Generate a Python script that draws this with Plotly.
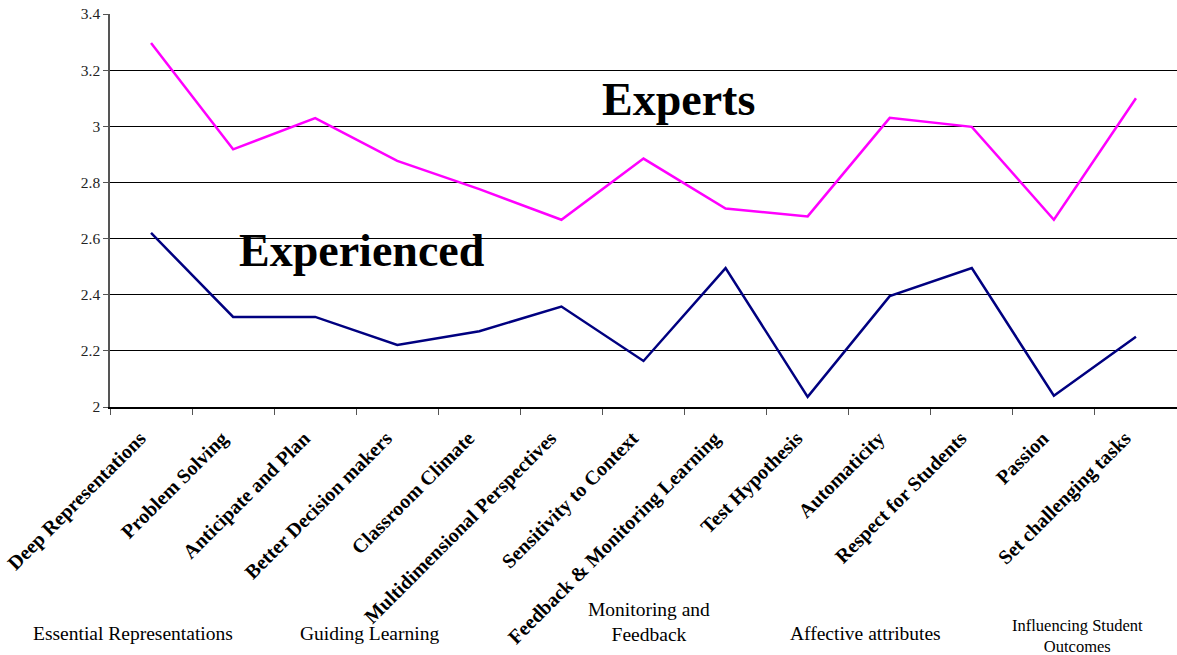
import plotly.graph_objects as go

categories = ["Deep Representations", "Problem Solving", "Anticipate and Plan",
              "Better Decision makers", "Classroom Climate", "Multidimensional Perspectives",
              "Sensitivity to Context", "Feedback & Monitoring Learning", "Test Hypothesis",
              "Automaticity", "Respect for Students", "Passion", "Set challenging tasks"]
experts = [3.297, 2.918, 3.029, 2.877, 2.776, 2.667, 2.885, 2.707, 2.679, 3.030, 2.998, 2.667, 3.100]
experienced = [2.620, 2.321, 2.321, 2.221, 2.270, 2.358, 2.164, 2.495, 2.036, 2.395, 2.495, 2.040, 2.250]
groups = ["Essential Representations", "Guiding Learning", "Monitoring and<br>Feedback",
          "Affective attributes", "Influencing Student<br>Outcomes"]

FONT = "Liberation Serif, Times New Roman, serif"
W, H = 1177, 655
L, T, B, R = 110, 14, 248, 0
PW, PH = W - L - R, H - T - B

def px(x):
    return (x - L) / PW

def py(y):
    return (H - B - y) / PH

fig = go.Figure()
fig.add_trace(go.Scatter(x=categories, y=experts, mode="lines",
                         line=dict(color="#FF00FF", width=2.5), name="Experts"))
fig.add_trace(go.Scatter(x=categories, y=experienced, mode="lines",
                         line=dict(color="#000080", width=2.5), name="Experienced"))

fig.update_layout(
    width=W, height=H, margin=dict(l=L, r=R, t=T, b=B),
    paper_bgcolor="white", plot_bgcolor="white", showlegend=False,
    font=dict(family=FONT, color="black"),
    xaxis=dict(type="category", range=[-0.5, 12.5], tickangle=-45, tickson="boundaries",
               ticks="outside", ticklen=6, tickcolor="#555", showgrid=False,
               showline=True, linecolor="black", linewidth=1.5,
               ticklabelshift=-11, ticklabelstandoff=10,
               tickfont=dict(family=FONT, size=20, color="black"),
               tickprefix="<b>", ticksuffix="</b>"),
    yaxis=dict(range=[2, 3.4], dtick=0.2, ticks="outside", ticklen=5, tickcolor="#555",
               showgrid=True, gridcolor="black", gridwidth=1,
               showline=True, linecolor="#555", linewidth=1.5, zeroline=False,
               tickfont=dict(family=FONT, size=15.5, color="#222")),
)

ann = [
    ("Experts", 678, 100, 46),
    ("Experienced", 362, 250, 46),
]
for txt, x, y, s in ann:
    fig.add_annotation(text=f"<b>{txt}</b>", xref="paper", yref="paper", x=px(x), y=py(y),
                       xanchor="center", yanchor="middle",
                       showarrow=False, font=dict(family=FONT, size=s, color="black"))

group_pos = [(133, 633, 19.5), (369, 633, 19.5), (649, 622, 19.5), (865, 633, 19.5), (1077, 636, 16.5)]
for g, (x, y, s) in zip(groups, group_pos):
    fig.add_annotation(text=g, xref="paper", yref="paper", x=px(x), y=py(y),
                       xanchor="center", yanchor="middle",
                       showarrow=False, align="center",
                       font=dict(family=FONT, size=s, color="black"))

fig.write_html("out.html", config={"displayModeBar": False},
               post_script="document.body.style.margin='0';")
